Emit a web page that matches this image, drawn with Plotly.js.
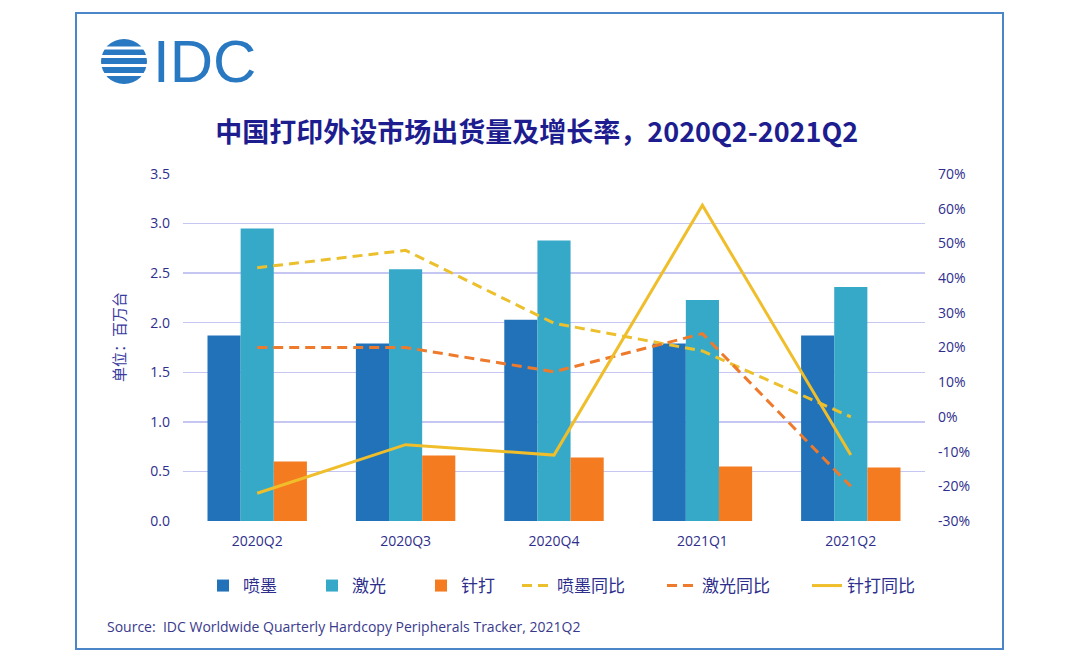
<!DOCTYPE html>
<html>
<head>
<meta charset="utf-8">
<script src="https://cdn.plot.ly/plotly-3.0.1.min.js"></script>
<style>
  html, body { margin: 0; padding: 0; background: #fff; }
  #wrap { position: relative; width: 1080px; height: 660px; }
  #chart { width: 1080px; height: 660px; }
  #frame { position: absolute; left: 75px; top: 12px; width: 925px; height: 634px;
           border: 2px solid #4a86c8; pointer-events: none; }
</style>
</head>
<body>
<div id="wrap">
  <div id="chart"></div>
  <div id="frame"></div>
</div>
<script>
// ---- data ----
const categories = ['2020Q2', '2020Q3', '2020Q4', '2021Q1', '2021Q2'];
const inkjet     = [1.87, 1.79, 2.03, 1.79, 1.87];   // 喷墨 (百万台)
const laser      = [2.95, 2.54, 2.83, 2.23, 2.36];   // 激光
const dotMatrix  = [0.60, 0.66, 0.64, 0.55, 0.54];   // 针打
const inkjetYoY  = [43, 48, 27, 19, 0];              // 喷墨同比 (%)
const laserYoY   = [20, 20, 13, 24, -20];            // 激光同比
const dotYoY     = [-22, -8, -11, 61, -11];          // 针打同比
const seriesNames = ['喷墨', '激光', '针打', '喷墨同比', '激光同比', '针打同比'];
const leftTicks  = [0, 0.5, 1, 1.5, 2, 2.5, 3, 3.5];
const rightTicks = [-30, -20, -10, 0, 10, 20, 30, 40, 50, 60, 70];
const rightTickText = rightTicks.map(v => v + '%');

// ---- geometry helpers (pixel -> paper) ----
const W = 1080, H = 660;
const M = { l: 183, r: 155, t: 174, b: 139 };
const PW = W - M.l - M.r, PH = H - M.t - M.b;
const px = x => (x - M.l) / PW;
const py = y => (H - M.b - y) / PH;

const CJK = '"Noto Sans CJK SC", "Noto Sans", sans-serif';
const LAT = '"Open Sans", "Noto Sans CJK SC", sans-serif';
const navy = '#2e2e8c';

const traces = [
  { type: 'bar', name: seriesNames[0], x: categories, y: inkjet, marker: { color: '#2172b9' }, legend: 'legend' },
  { type: 'bar', name: seriesNames[1], x: categories, y: laser, marker: { color: '#36a9c9' }, legend: 'legend' },
  { type: 'bar', name: seriesNames[2], x: categories, y: dotMatrix, marker: { color: '#f47b20' }, legend: 'legend' },
  { type: 'scatter', mode: 'lines', name: seriesNames[3], x: categories, y: inkjetYoY, yaxis: 'y2',
    line: { color: '#ecc02c', width: 3, dash: '10px,6px' }, legend: 'legend2' },
  { type: 'scatter', mode: 'lines', name: seriesNames[4], x: categories, y: laserYoY, yaxis: 'y2',
    line: { color: '#ee7a2c', width: 3, dash: '10px,6px' }, legend: 'legend2' },
  { type: 'scatter', mode: 'lines', name: seriesNames[5], x: categories, y: dotYoY, yaxis: 'y2',
    line: { color: '#efbe2a', width: 3 }, legend: 'legend2' }
];

// logo globe: blue disc with white stripes
const shapes = [
  { type: 'circle', xref: 'paper', yref: 'paper', x0: px(101), x1: px(147), y0: py(39), y1: py(84),
    fillcolor: '#2878c2', line: { width: 0 }, layer: 'above' }
];
[48, 56.5, 65.5, 74.5].forEach(y => {
  shapes.push({ type: 'rect', xref: 'paper', yref: 'paper', x0: px(96), x1: px(152), y0: py(y + 1.4), y1: py(y - 1.4),
    fillcolor: '#ffffff', line: { width: 0 }, layer: 'above' });
});

const annotations = [
  { text: 'IDC', xref: 'paper', yref: 'paper', x: px(151), y: py(62), xanchor: 'left', yanchor: 'middle',
    showarrow: false, font: { family: '"Liberation Sans", Arial, sans-serif', size: 60, color: '#2878c2' } },
  { text: '单位：百万台', xref: 'paper', yref: 'paper', x: px(118), y: py(337), textangle: -90,
    xanchor: 'center', yanchor: 'middle', showarrow: false, font: { family: CJK, size: 15, color: '#3a3aa0' } },
  { text: 'Source:  IDC Worldwide Quarterly Hardcopy Peripherals Tracker, 2021Q2', xref: 'paper', yref: 'paper',
    x: px(105), y: py(626), xanchor: 'left', yanchor: 'middle', showarrow: false,
    font: { family: LAT, size: 14, color: '#3a3a8c' } }
];

const layout = {
  width: W, height: H,
  margin: M,
  paper_bgcolor: '#ffffff', plot_bgcolor: '#ffffff',
  title: { text: '中国打印外设市场出货量及增长率，2020Q2-2021Q2', x: 0.497, xanchor: 'center',
           y: 1 - 133 / H, yanchor: 'middle', yref: 'container', automargin: false,
           font: { family: CJK, size: 27, weight: 'bold', color: '#1d1d8f' } },
  barmode: 'group', bargap: 0.33, bargroupgap: 0,
  xaxis: { type: 'category', automargin: false, showgrid: false, zeroline: false, showline: false, ticks: '',
           ticklabelstandoff: 10,
           tickfont: { family: LAT, size: 14, color: navy } },
  yaxis: { range: [0, 3.5], automargin: false, tickvals: leftTicks, tickformat: '.1f', showgrid: true, gridcolor: '#c6c6f2',
           gridwidth: 1.5, zeroline: false, showline: false, ticks: '', ticklabelstandoff: 12,
           tickfont: { family: LAT, size: 14, color: navy } },
  yaxis2: { range: [-30, 70], automargin: false, overlaying: 'y', side: 'right', tickmode: 'array',
            tickvals: rightTicks, ticktext: rightTickText,
            showgrid: false, zeroline: false, showline: false, ticks: '', ticklabelstandoff: 12,
            tickfont: { family: LAT, size: 14, color: navy } },
  legend: { orientation: 'h', x: px(203), xanchor: 'left', y: py(586), yanchor: 'middle',
            entrywidth: 64, entrywidthmode: 'pixels', traceorder: 'normal',
            font: { family: CJK, size: 17, color: navy }, bgcolor: 'rgba(0,0,0,0)' },
  legend2: { orientation: 'h', x: px(517), xanchor: 'left', y: py(586), yanchor: 'middle',
             entrywidth: 100, entrywidthmode: 'pixels', traceorder: 'normal',
             font: { family: CJK, size: 17, color: navy }, bgcolor: 'rgba(0,0,0,0)' },
  shapes: shapes,
  annotations: annotations
};

Plotly.newPlot('chart', traces, layout, { displayModeBar: false, staticPlot: true });
</script>
</body>
</html>
